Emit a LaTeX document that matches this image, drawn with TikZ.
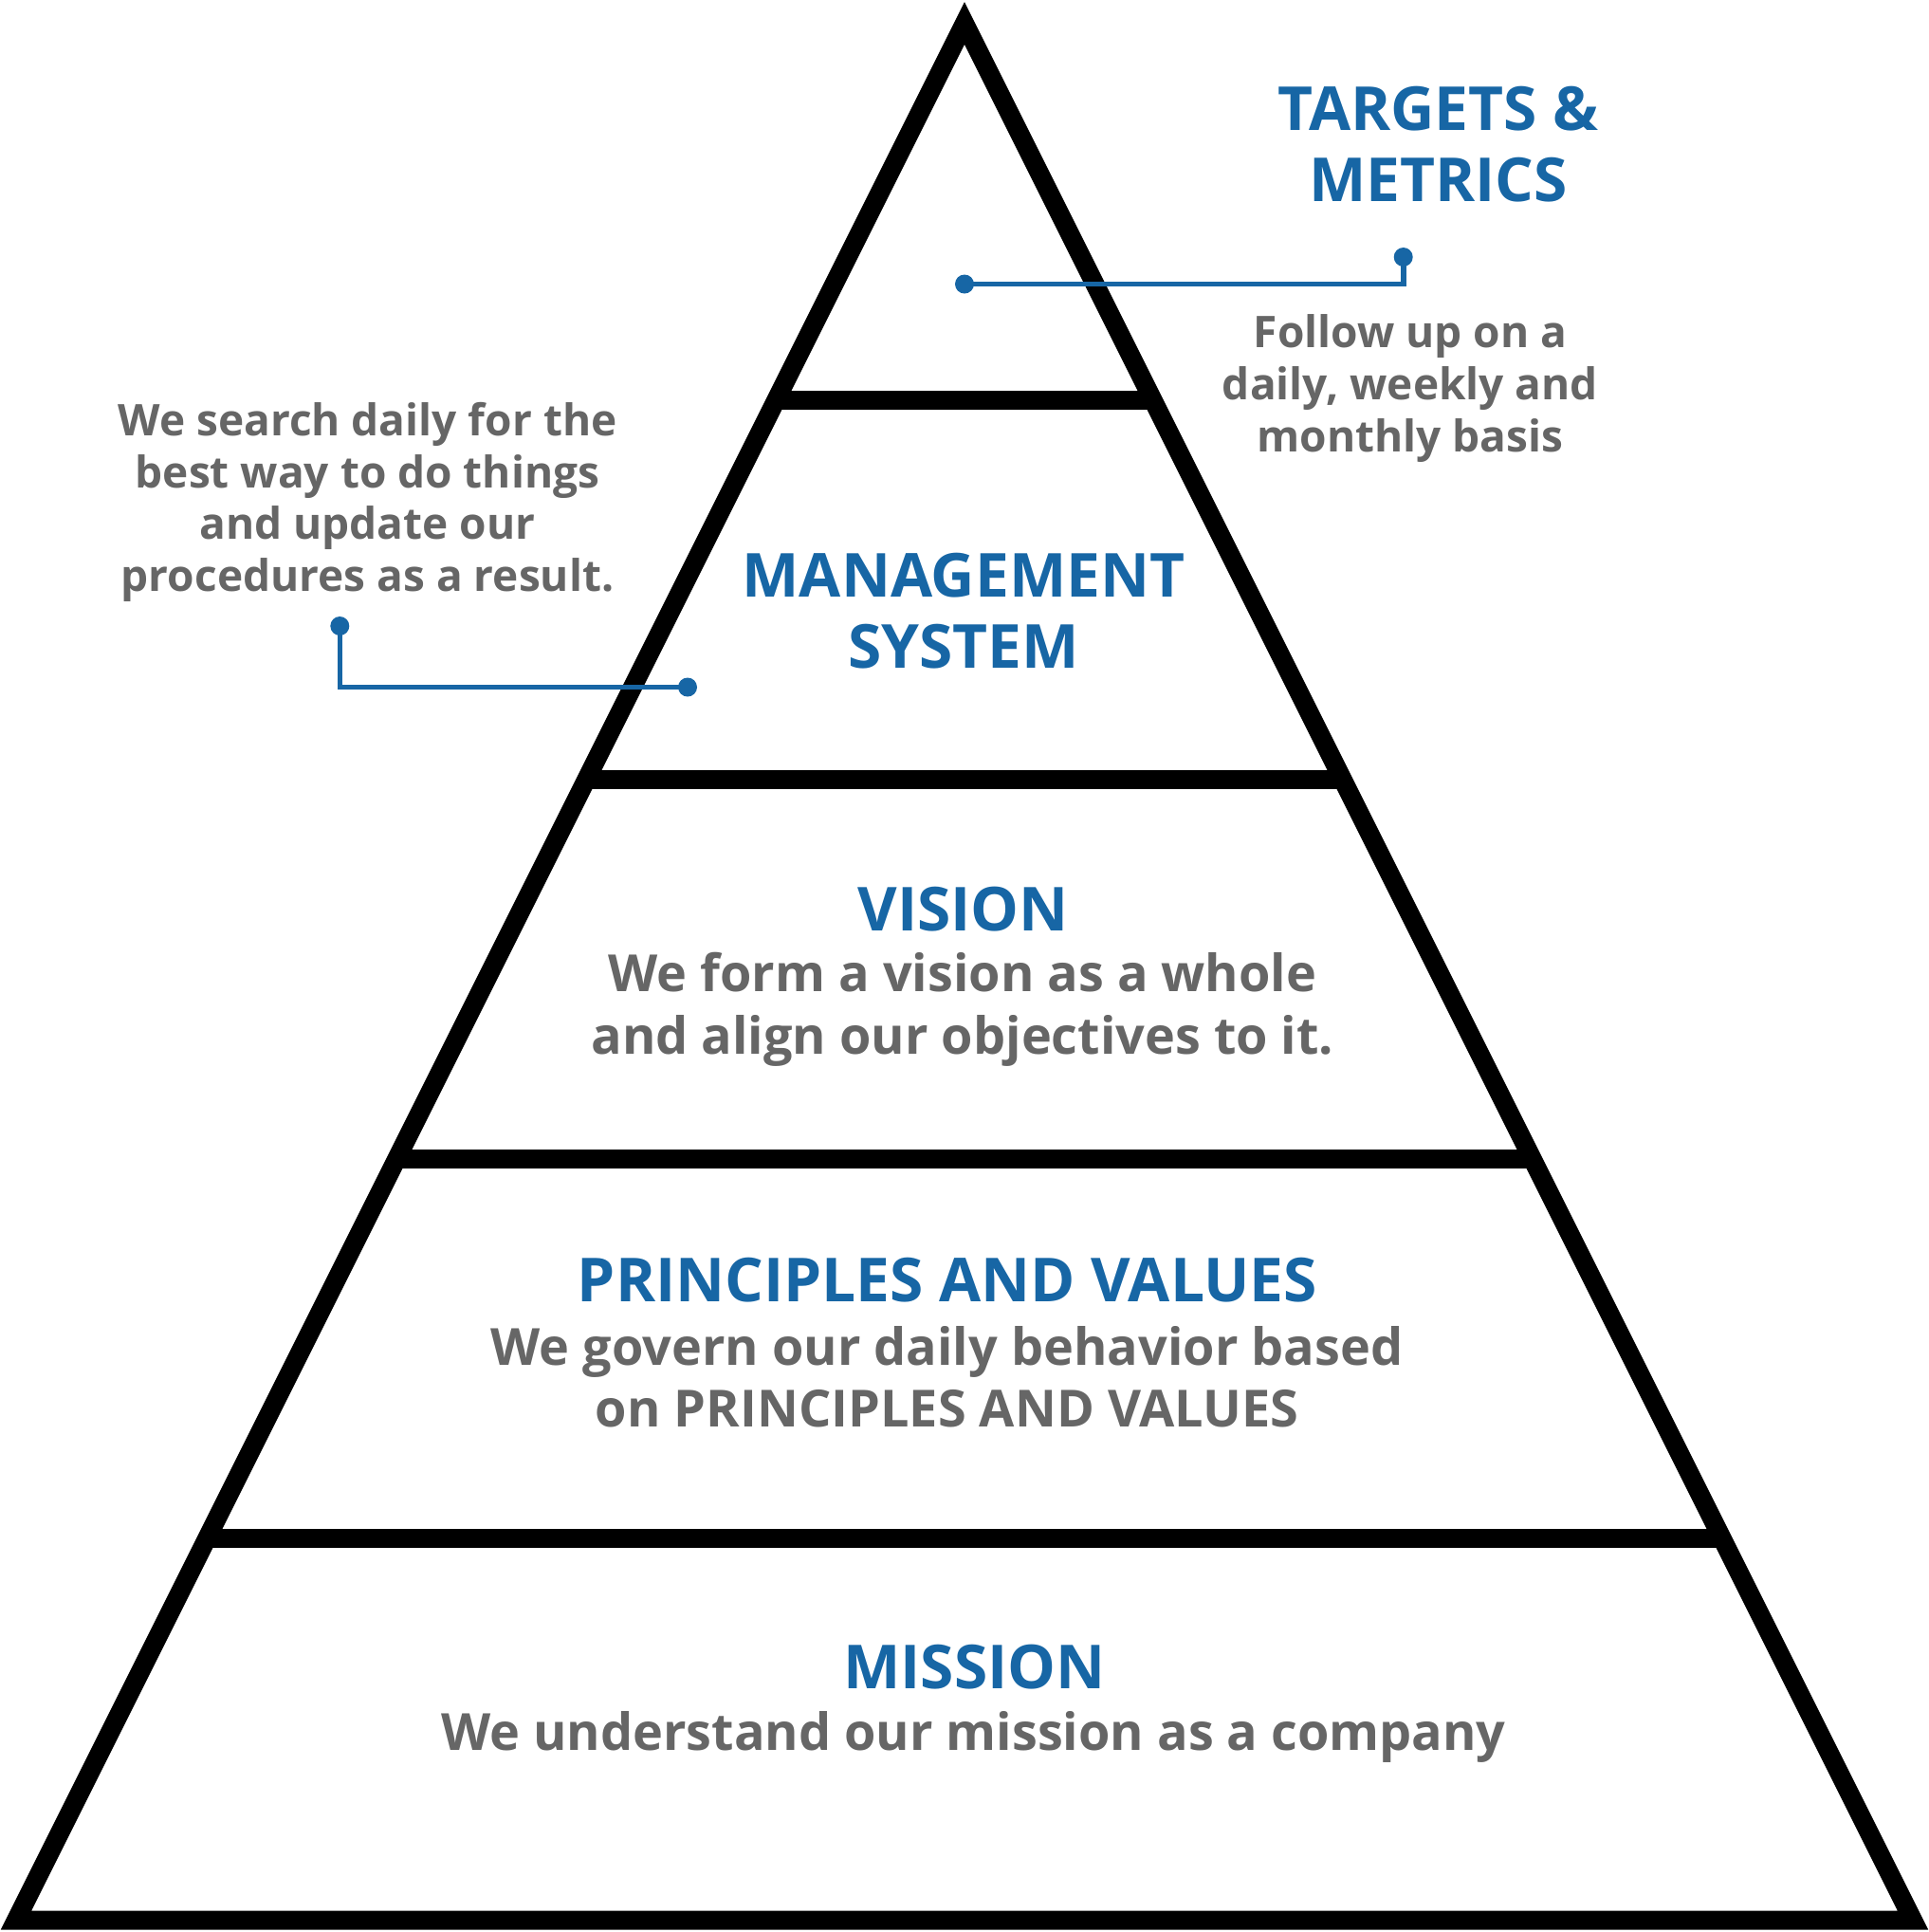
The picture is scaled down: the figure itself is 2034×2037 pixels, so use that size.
\documentclass[tikz,border=0pt]{standalone}
\usepackage{fontspec}
\setmainfont{Open Sans}
\usetikzlibrary{calc}
\definecolor{myblue}{RGB}{23,102,165}
\definecolor{mygrey}{RGB}{102,102,102}
\tikzset{
  title/.style={font=\fontsize{16.0}{18.8}\selectfont\bfseries, text=myblue, align=center, inner sep=0pt, anchor=base},
  body/.style={font=\fontsize{13.5}{16.4}\selectfont\bfseries, text=mygrey, align=center, inner sep=0pt, anchor=base},
  side/.style={font=\fontsize{11.5}{13.65}\selectfont\bfseries, text=mygrey, align=center, inner sep=0pt, anchor=base},
  frame/.style={line width=5pt, draw=black, line join=miter},
  bar/.style={line width=5pt, draw=black},
  link/.style={line width=1.4pt, draw=myblue, line join=miter},
  dot/.style={circle, fill=myblue, inner sep=0pt, minimum size=5pt},
}
\begin{document}
\begin{tikzpicture}[x=0.25pt, y=-0.25pt]
\path[use as bounding box] (0,0) rectangle (2034,2037);
\coordinate (A) at (1017,24.5);
\coordinate (BL) at (17,2024.5);
\coordinate (BR) at (2017,2024.5);
% bars
\foreach \t in {0.19875,0.39875,0.59875,0.79875}
  \draw[bar] ($(A)!\t!(BL)$) -- ($(A)!\t!(BR)$);
% outline
\draw[frame] (A) -- (BR) -- (BL) -- cycle;
% connectors
\node[dot] (d1) at (1017,299.5) {};
\node[dot] (d2) at (1479.7,271) {};
\node[dot] (d3) at (358.3,660) {};
\node[dot] (d4) at (725,724.5) {};
\draw[link] (d1.center) -| (d2.center);
\draw[link] (d3.center) |- (d4.center);
% texts (multi-line nodes: base = baseline of last line)
\node[title] (tm) at (1516.5,212.7) {TARGETS \&\\METRICS};
\node[side] (fu) at (1487,476) {Follow up on a\\daily, weekly and\\monthly basis};
\node[side] (ws) at (387.5,623.5) {We search daily for the\\best way to do things\\and update our\\procedures as a result.};
\node[title] (ms) at (1016,704.2) {MANAGEMENT\\SYSTEM};
\node[title] (vi) at (1015.5,981.5) {VISION};
\node[body] (vib) at (1015,1111.3) {We form a vision as a whole\\and align our objectives to it.};
\node[title] (pv) at (999,1372.4) {PRINCIPLES AND VALUES};
\node[body] (pvb) at (998.5,1504.7) {We govern our daily behavior based\\on PRINCIPLES AND VALUES};
\node[title] (mi) at (1027.5,1780.5) {MISSION};
\node[body] (mib) at (1026.5,1845) {We understand our mission as a company};
\end{tikzpicture}
\end{document}
